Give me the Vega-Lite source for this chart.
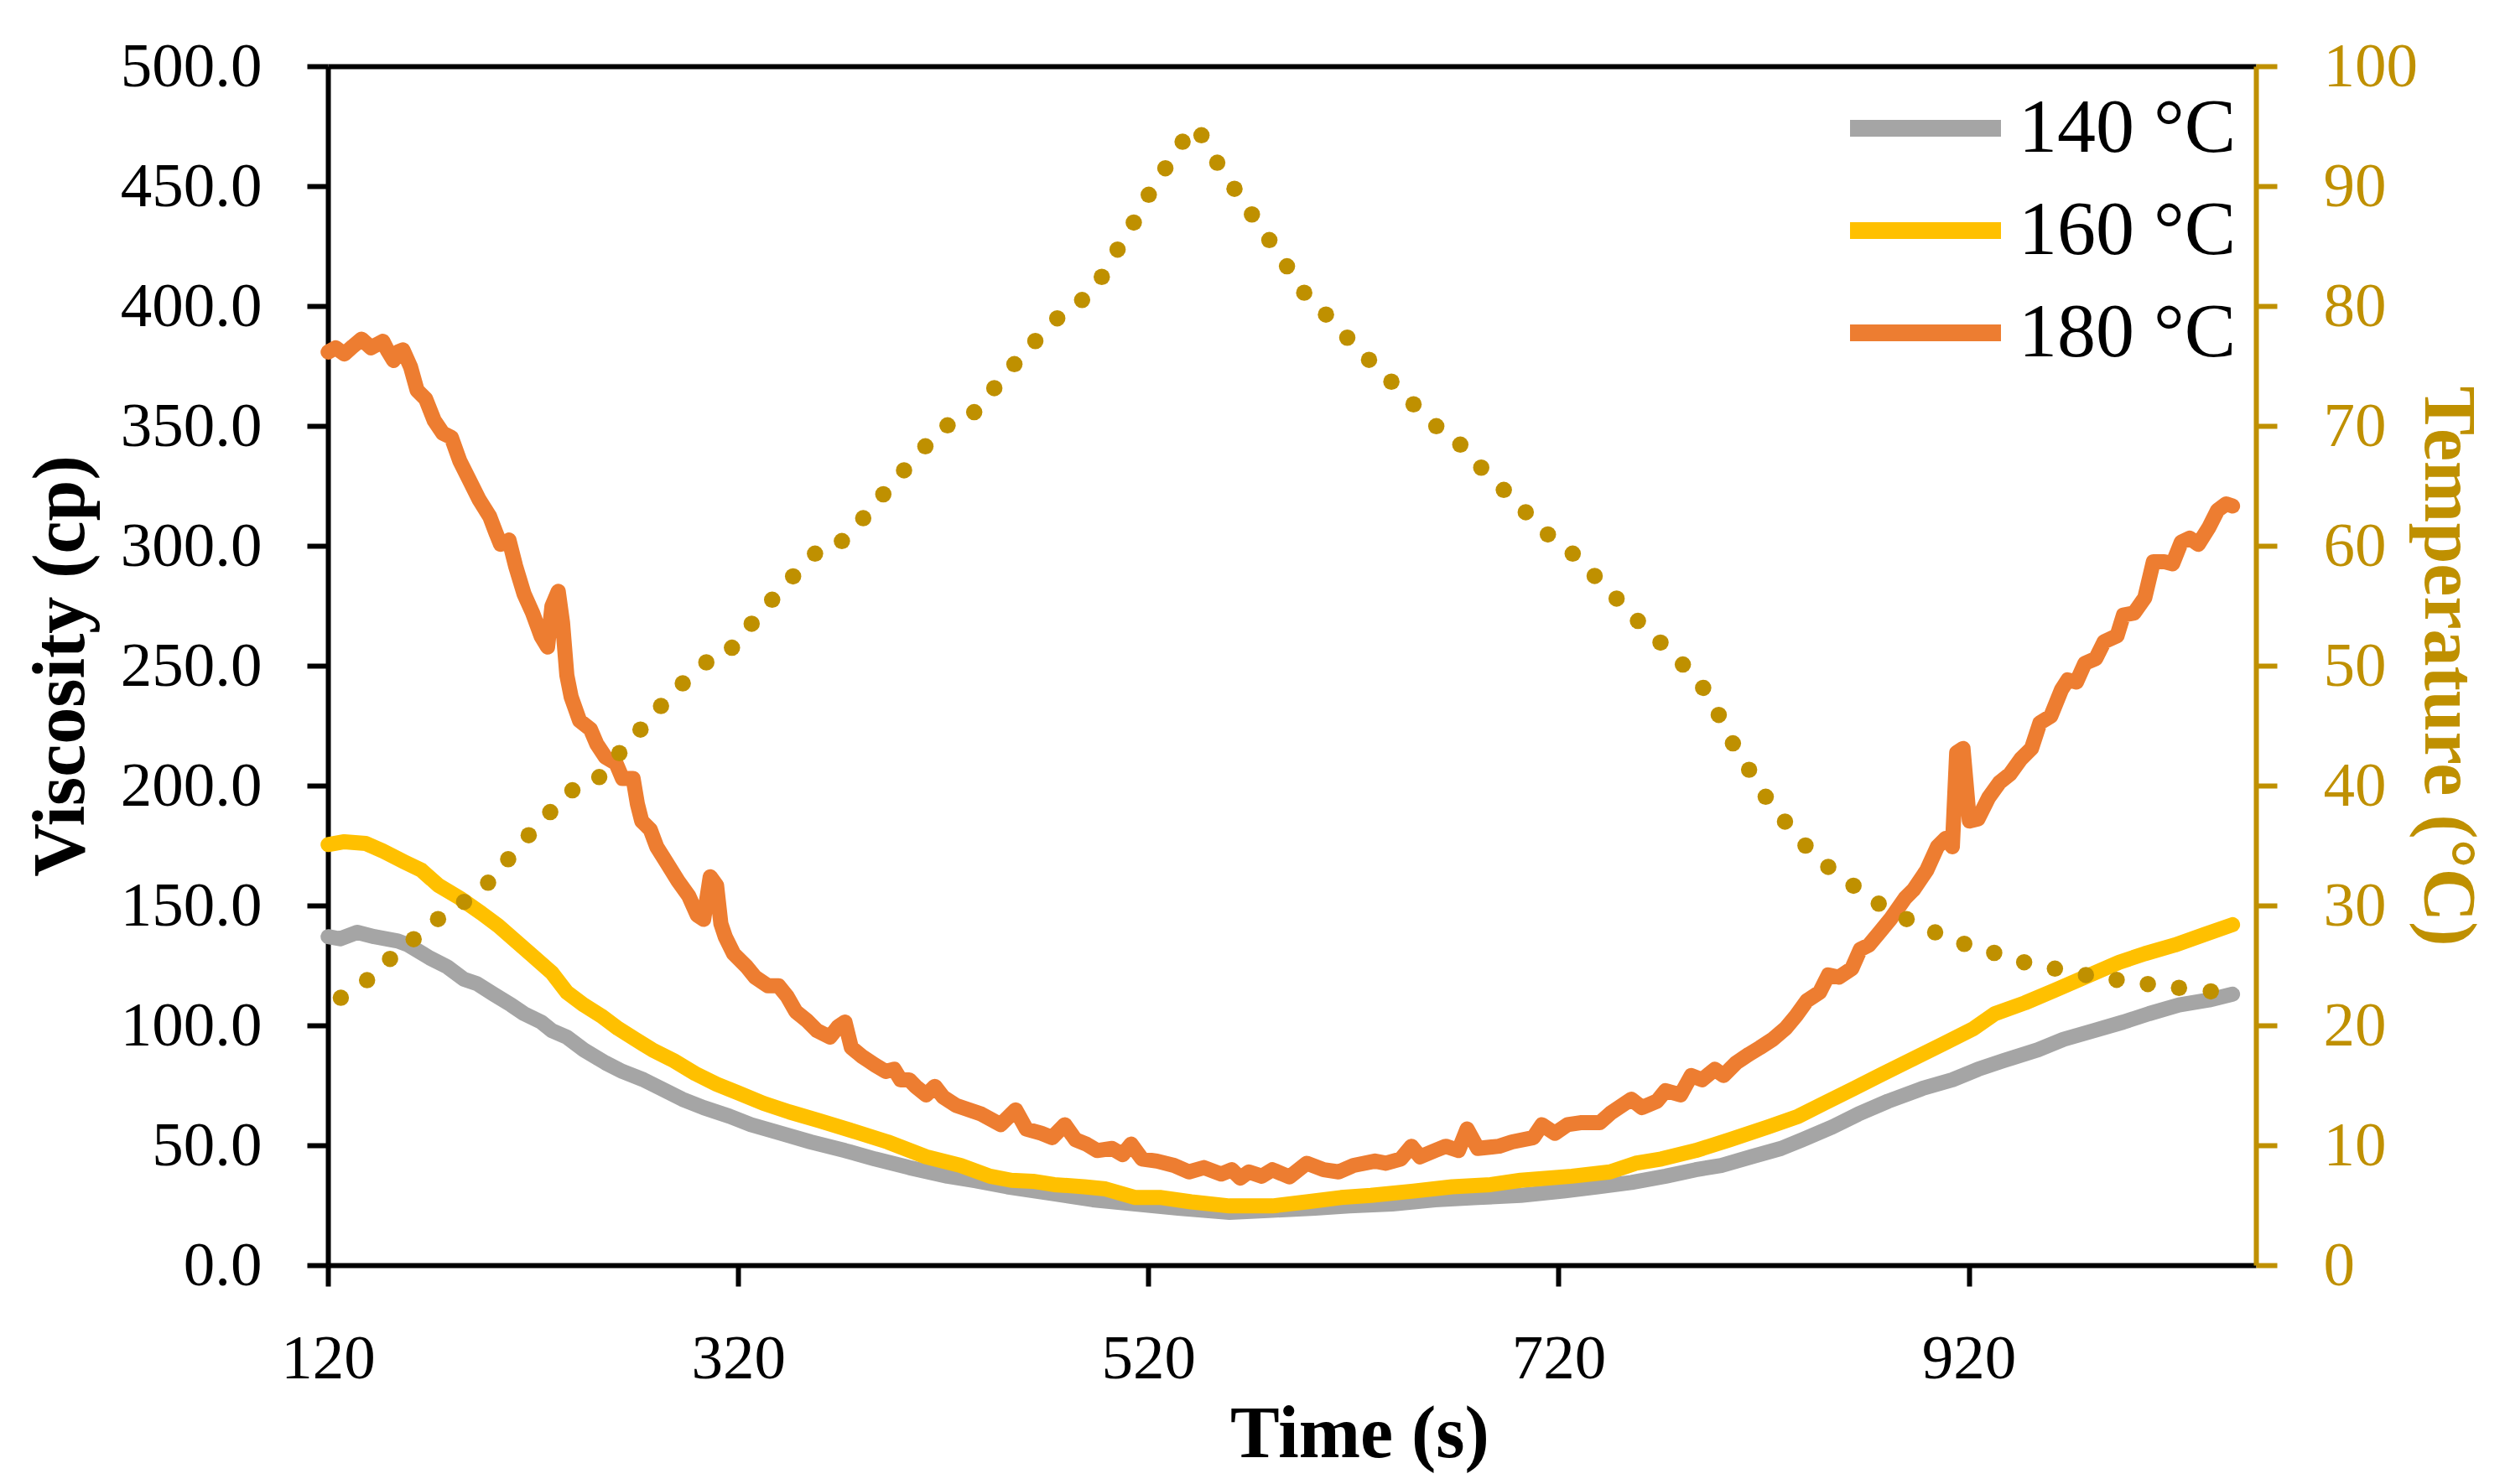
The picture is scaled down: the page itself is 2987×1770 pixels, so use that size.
{
  "$schema": "https://vega.github.io/schema/vega-lite/v6.json",
  "width": 2299,
  "height": 1430,
  "autosize": {"type": "none"},
  "padding": {"left": 391, "top": 79, "right": 297, "bottom": 261},
  "background": "white",
  "config": {"view": {"stroke": null}, "font": "Liberation Serif"},
  "datasets": {
    "visc": [
      {"time":120.1,"series":"140 °C","viscosity":137},{"time":125.9,"series":"140 °C","viscosity":136.1},{"time":134.3,"series":"140 °C","viscosity":138.8},{"time":142.6,"series":"140 °C","viscosity":137},{"time":154.1,"series":"140 °C","viscosity":135.2},{"time":159.3,"series":"140 °C","viscosity":133.5},{"time":169.7,"series":"140 °C","viscosity":128.1},{"time":178.1,"series":"140 °C","viscosity":124.5},{"time":186.4,"series":"140 °C","viscosity":119.2},{"time":192.7,"series":"140 °C","viscosity":117.4},{"time":201,"series":"140 °C","viscosity":112.9},{"time":209.4,"series":"140 °C","viscosity":108.5},{"time":215.6,"series":"140 °C","viscosity":104.9},{"time":224,"series":"140 °C","viscosity":101.4},{"time":229.2,"series":"140 °C","viscosity":97.8},{"time":236.5,"series":"140 °C","viscosity":95.1},{"time":244.8,"series":"140 °C","viscosity":89.8},{"time":255.3,"series":"140 °C","viscosity":84.4},{"time":263.6,"series":"140 °C","viscosity":80.8},{"time":274,"series":"140 °C","viscosity":77.3},{"time":282.4,"series":"140 °C","viscosity":73.7},{"time":292.8,"series":"140 °C","viscosity":69.2},{"time":303.2,"series":"140 °C","viscosity":65.7},{"time":315.8,"series":"140 °C","viscosity":62.1},{"time":326.2,"series":"140 °C","viscosity":58.6},{"time":340.8,"series":"140 °C","viscosity":55},{"time":355.4,"series":"140 °C","viscosity":51.4},{"time":372.1,"series":"140 °C","viscosity":47.8},{"time":386.7,"series":"140 °C","viscosity":44.3},{"time":403.4,"series":"140 °C","viscosity":40.7},{"time":422.1,"series":"140 °C","viscosity":37.1},{"time":436,"series":"140 °C","viscosity":35.2},{"time":451.2,"series":"140 °C","viscosity":32.7},{"time":472,"series":"140 °C","viscosity":30},{"time":492.9,"series":"140 °C","viscosity":27.3},{"time":513.7,"series":"140 °C","viscosity":25.5},{"time":534.6,"series":"140 °C","viscosity":23.8},{"time":559.6,"series":"140 °C","viscosity":22},{"time":580.5,"series":"140 °C","viscosity":22.9},{"time":601.3,"series":"140 °C","viscosity":23.8},{"time":618,"series":"140 °C","viscosity":24.7},{"time":638.9,"series":"140 °C","viscosity":25.5},{"time":659.8,"series":"140 °C","viscosity":27.3},{"time":680.6,"series":"140 °C","viscosity":28.2},{"time":701.5,"series":"140 °C","viscosity":29.1},{"time":722.3,"series":"140 °C","viscosity":30.9},{"time":739,"series":"140 °C","viscosity":32.7},{"time":755.5,"series":"140 °C","viscosity":34.5},{"time":772.2,"series":"140 °C","viscosity":37.1},{"time":786.8,"series":"140 °C","viscosity":39.8},{"time":799.3,"series":"140 °C","viscosity":41.6},{"time":813.9,"series":"140 °C","viscosity":45.2},{"time":828.5,"series":"140 °C","viscosity":48.7},{"time":838.9,"series":"140 °C","viscosity":52.3},{"time":853.6,"series":"140 °C","viscosity":57.7},{"time":866.1,"series":"140 °C","viscosity":63},{"time":880.7,"series":"140 °C","viscosity":68.4},{"time":897.4,"series":"140 °C","viscosity":73.7},{"time":912,"series":"140 °C","viscosity":77.3},{"time":924.5,"series":"140 °C","viscosity":81.7},{"time":937,"series":"140 °C","viscosity":85.3},{"time":953.7,"series":"140 °C","viscosity":89.8},{"time":966.2,"series":"140 °C","viscosity":94.2},{"time":980.8,"series":"140 °C","viscosity":97.8},{"time":995.4,"series":"140 °C","viscosity":101.4},{"time":1007.9,"series":"140 °C","viscosity":104.9},{"time":1022.5,"series":"140 °C","viscosity":108.5},{"time":1037.1,"series":"140 °C","viscosity":110.6},{"time":1048.6,"series":"140 °C","viscosity":113},
      {"time":120.1,"series":"160 °C","viscosity":175.4},{"time":128,"series":"160 °C","viscosity":176.6},{"time":138.4,"series":"160 °C","viscosity":175.9},{"time":146.8,"series":"160 °C","viscosity":172.7},{"time":157.2,"series":"160 °C","viscosity":168.2},{"time":165.6,"series":"160 °C","viscosity":164.7},{"time":173.9,"series":"160 °C","viscosity":158.4},{"time":184.3,"series":"160 °C","viscosity":153.1},{"time":194.8,"series":"160 °C","viscosity":146.8},{"time":203.1,"series":"160 °C","viscosity":141.5},{"time":211.5,"series":"160 °C","viscosity":135.2},{"time":219.8,"series":"160 °C","viscosity":129},{"time":229.2,"series":"160 °C","viscosity":121.9},{"time":236.5,"series":"160 °C","viscosity":113.8},{"time":244.8,"series":"160 °C","viscosity":108.5},{"time":253.2,"series":"160 °C","viscosity":104},{"time":261.5,"series":"160 °C","viscosity":98.7},{"time":269.9,"series":"160 °C","viscosity":94.2},{"time":278.2,"series":"160 °C","viscosity":89.8},{"time":288.6,"series":"160 °C","viscosity":85.3},{"time":299.1,"series":"160 °C","viscosity":79.9},{"time":309.5,"series":"160 °C","viscosity":75.5},{"time":319.9,"series":"160 °C","viscosity":71.9},{"time":332.4,"series":"160 °C","viscosity":67.5},{"time":345,"series":"160 °C","viscosity":63.9},{"time":359.5,"series":"160 °C","viscosity":60.3},{"time":376.2,"series":"160 °C","viscosity":55.9},{"time":392.9,"series":"160 °C","viscosity":51.4},{"time":411.7,"series":"160 °C","viscosity":45.2},{"time":428.4,"series":"160 °C","viscosity":41.6},{"time":442.8,"series":"160 °C","viscosity":37.1},{"time":453.2,"series":"160 °C","viscosity":35.4},{"time":463.7,"series":"160 °C","viscosity":35},{"time":474.1,"series":"160 °C","viscosity":33.6},{"time":488.7,"series":"160 °C","viscosity":32.7},{"time":499.1,"series":"160 °C","viscosity":31.8},{"time":513.7,"series":"160 °C","viscosity":28.2},{"time":526.3,"series":"160 °C","viscosity":28.2},{"time":540.9,"series":"160 °C","viscosity":26.4},{"time":559.6,"series":"160 °C","viscosity":24.7},{"time":580.5,"series":"160 °C","viscosity":24.7},{"time":597.2,"series":"160 °C","viscosity":26.4},{"time":613.9,"series":"160 °C","viscosity":28.2},{"time":628.5,"series":"160 °C","viscosity":29.1},{"time":649.3,"series":"160 °C","viscosity":30.9},{"time":668.1,"series":"160 °C","viscosity":32.7},{"time":686.9,"series":"160 °C","viscosity":33.6},{"time":701.5,"series":"160 °C","viscosity":35.4},{"time":726.5,"series":"160 °C","viscosity":37.1},{"time":745.1,"series":"160 °C","viscosity":38.9},{"time":757.6,"series":"160 °C","viscosity":42.5},{"time":770.1,"series":"160 °C","viscosity":44.3},{"time":786.8,"series":"160 °C","viscosity":47.8},{"time":803.5,"series":"160 °C","viscosity":52.3},{"time":822.3,"series":"160 °C","viscosity":57.7},{"time":836.9,"series":"160 °C","viscosity":62.1},{"time":849.4,"series":"160 °C","viscosity":67.5},{"time":864,"series":"160 °C","viscosity":73.7},{"time":876.5,"series":"160 °C","viscosity":79.1},{"time":891.1,"series":"160 °C","viscosity":85.3},{"time":907.8,"series":"160 °C","viscosity":92.4},{"time":922.4,"series":"160 °C","viscosity":98.7},{"time":932.8,"series":"160 °C","viscosity":104.9},{"time":947.4,"series":"160 °C","viscosity":109.4},{"time":962,"series":"160 °C","viscosity":114.7},{"time":976.6,"series":"160 °C","viscosity":120.1},{"time":993.3,"series":"160 °C","viscosity":126.3},{"time":1005.8,"series":"160 °C","viscosity":129.9},{"time":1020.4,"series":"160 °C","viscosity":133.5},{"time":1035,"series":"160 °C","viscosity":137.9},{"time":1048.6,"series":"160 °C","viscosity":142},
      {"time":120.1,"series":"180 °C","viscosity":380.8},{"time":123.8,"series":"180 °C","viscosity":382.6},{"time":128,"series":"180 °C","viscosity":380},{"time":132.2,"series":"180 °C","viscosity":383.2},{"time":136.4,"series":"180 °C","viscosity":386.2},{"time":141,"series":"180 °C","viscosity":382.6},{"time":146.8,"series":"180 °C","viscosity":385.3},{"time":148.9,"series":"180 °C","viscosity":381.7},{"time":152,"series":"180 °C","viscosity":377.3},{"time":154.1,"series":"180 °C","viscosity":380.8},{"time":156.6,"series":"180 °C","viscosity":381.7},{"time":160.3,"series":"180 °C","viscosity":374.6},{"time":163.5,"series":"180 °C","viscosity":364.8},{"time":167.7,"series":"180 °C","viscosity":361.2},{"time":171.8,"series":"180 °C","viscosity":352.3},{"time":176,"series":"180 °C","viscosity":347},{"time":180.2,"series":"180 °C","viscosity":345.2},{"time":184.3,"series":"180 °C","viscosity":335.4},{"time":188.5,"series":"180 °C","viscosity":328.2},{"time":193.7,"series":"180 °C","viscosity":319.3},{"time":198.9,"series":"180 °C","viscosity":312.2},{"time":202.1,"series":"180 °C","viscosity":305},{"time":204.2,"series":"180 °C","viscosity":300.6},{"time":208.3,"series":"180 °C","viscosity":302.4},{"time":211.5,"series":"180 °C","viscosity":291.6},{"time":215.6,"series":"180 °C","viscosity":280},{"time":219.8,"series":"180 °C","viscosity":272},{"time":224,"series":"180 °C","viscosity":262.2},{"time":227.1,"series":"180 °C","viscosity":257.8},{"time":229.2,"series":"180 °C","viscosity":274.7},{"time":232.3,"series":"180 °C","viscosity":281},{"time":234.4,"series":"180 °C","viscosity":268},{"time":236.5,"series":"180 °C","viscosity":246},{"time":238.6,"series":"180 °C","viscosity":237},{"time":242.7,"series":"180 °C","viscosity":227.1},{"time":248,"series":"180 °C","viscosity":223.5},{"time":251.1,"series":"180 °C","viscosity":217.3},{"time":255.3,"series":"180 °C","viscosity":211.9},{"time":260.5,"series":"180 °C","viscosity":209.3},{"time":263.6,"series":"180 °C","viscosity":203},{"time":268.8,"series":"180 °C","viscosity":203},{"time":270.9,"series":"180 °C","viscosity":192.3},{"time":273,"series":"180 °C","viscosity":185.2},{"time":277.2,"series":"180 °C","viscosity":181.6},{"time":280.3,"series":"180 °C","viscosity":174.5},{"time":285.5,"series":"180 °C","viscosity":167.4},{"time":290.7,"series":"180 °C","viscosity":160.2},{"time":295.9,"series":"180 °C","viscosity":154},{"time":300.1,"series":"180 °C","viscosity":146},{"time":303.2,"series":"180 °C","viscosity":144.2},{"time":306.4,"series":"180 °C","viscosity":162},{"time":309.5,"series":"180 °C","viscosity":158.4},{"time":311.6,"series":"180 °C","viscosity":142.4},{"time":313.7,"series":"180 °C","viscosity":137},{"time":317.8,"series":"180 °C","viscosity":129.9},{"time":324.1,"series":"180 °C","viscosity":124.5},{"time":328.3,"series":"180 °C","viscosity":120.1},{"time":334.5,"series":"180 °C","viscosity":116.5},{"time":339.7,"series":"180 °C","viscosity":116.5},{"time":343.9,"series":"180 °C","viscosity":112.1},{"time":348.1,"series":"180 °C","viscosity":105.8},{"time":353.3,"series":"180 °C","viscosity":102.2},{"time":358.5,"series":"180 °C","viscosity":97.8},{"time":364.8,"series":"180 °C","viscosity":95.1},{"time":368.9,"series":"180 °C","viscosity":99.6},{"time":372.1,"series":"180 °C","viscosity":101.4},{"time":375.2,"series":"180 °C","viscosity":90.7},{"time":380.4,"series":"180 °C","viscosity":87.1},{"time":386.7,"series":"180 °C","viscosity":83.5},{"time":391.9,"series":"180 °C","viscosity":80.8},{"time":396.1,"series":"180 °C","viscosity":81.7},{"time":399.2,"series":"180 °C","viscosity":77.3},{"time":403.4,"series":"180 °C","viscosity":77.3},{"time":406.5,"series":"180 °C","viscosity":74.6},{"time":411.7,"series":"180 °C","viscosity":71},{"time":415.9,"series":"180 °C","viscosity":74.6},{"time":420,"series":"180 °C","viscosity":70.1},{"time":426.3,"series":"180 °C","viscosity":66.6},{"time":432.6,"series":"180 °C","viscosity":64.8},{"time":438.6,"series":"180 °C","viscosity":63},{"time":448,"series":"180 °C","viscosity":58.6},{"time":455.3,"series":"180 °C","viscosity":64.8},{"time":460.5,"series":"180 °C","viscosity":56.8},{"time":467.8,"series":"180 °C","viscosity":55},{"time":473.1,"series":"180 °C","viscosity":53.2},{"time":479.3,"series":"180 °C","viscosity":58.6},{"time":484.5,"series":"180 °C","viscosity":52.3},{"time":489.8,"series":"180 °C","viscosity":50.5},{"time":495,"series":"180 °C","viscosity":47.8},{"time":502.3,"series":"180 °C","viscosity":48.7},{"time":507.5,"series":"180 °C","viscosity":46.1},{"time":511.6,"series":"180 °C","viscosity":50.5},{"time":516.9,"series":"180 °C","viscosity":44.3},{"time":524.2,"series":"180 °C","viscosity":43.4},{"time":532.5,"series":"180 °C","viscosity":41.6},{"time":539.8,"series":"180 °C","viscosity":38.9},{"time":547.1,"series":"180 °C","viscosity":40.7},{"time":555.5,"series":"180 °C","viscosity":38},{"time":560.7,"series":"180 °C","viscosity":39.8},{"time":564.8,"series":"180 °C","viscosity":36.3},{"time":569,"series":"180 °C","viscosity":38.9},{"time":575.3,"series":"180 °C","viscosity":37.1},{"time":580.5,"series":"180 °C","viscosity":39.8},{"time":588.8,"series":"180 °C","viscosity":36.8},{"time":597.2,"series":"180 °C","viscosity":42.5},{"time":605.5,"series":"180 °C","viscosity":39.8},{"time":612.8,"series":"180 °C","viscosity":38.9},{"time":620.1,"series":"180 °C","viscosity":41.6},{"time":630.5,"series":"180 °C","viscosity":43.4},{"time":635.8,"series":"180 °C","viscosity":42.5},{"time":643.1,"series":"180 °C","viscosity":44.3},{"time":648.3,"series":"180 °C","viscosity":49.6},{"time":652.5,"series":"180 °C","viscosity":45.2},{"time":659.8,"series":"180 °C","viscosity":47.8},{"time":665,"series":"180 °C","viscosity":49.6},{"time":671.2,"series":"180 °C","viscosity":47.8},{"time":675.4,"series":"180 °C","viscosity":56.8},{"time":680.6,"series":"180 °C","viscosity":48.7},{"time":691,"series":"180 °C","viscosity":49.6},{"time":697.3,"series":"180 °C","viscosity":51.4},{"time":707.7,"series":"180 °C","viscosity":53.2},{"time":711.9,"series":"180 °C","viscosity":58.6},{"time":718.2,"series":"180 °C","viscosity":55},{"time":724.4,"series":"180 °C","viscosity":58.6},{"time":730.7,"series":"180 °C","viscosity":59.4},{"time":740.1,"series":"180 °C","viscosity":59.4},{"time":745.5,"series":"180 °C","viscosity":63.5},{"time":749.3,"series":"180 °C","viscosity":65.7},{"time":755.5,"series":"180 °C","viscosity":69.2},{"time":760.7,"series":"180 °C","viscosity":65.7},{"time":768,"series":"180 °C","viscosity":68.4},{"time":772.2,"series":"180 °C","viscosity":72.8},{"time":779.5,"series":"180 °C","viscosity":71},{"time":784.7,"series":"180 °C","viscosity":79.1},{"time":790,"series":"180 °C","viscosity":77.3},{"time":796.2,"series":"180 °C","viscosity":81.7},{"time":800.4,"series":"180 °C","viscosity":79.1},{"time":806.6,"series":"180 °C","viscosity":84.4},{"time":812.9,"series":"180 °C","viscosity":88},{"time":818.1,"series":"180 °C","viscosity":90.7},{"time":824.4,"series":"180 °C","viscosity":94.2},{"time":830.6,"series":"180 °C","viscosity":98.7},{"time":835.8,"series":"180 °C","viscosity":104},{"time":841.1,"series":"180 °C","viscosity":110.3},{"time":847.3,"series":"180 °C","viscosity":113.8},{"time":851.5,"series":"180 °C","viscosity":121},{"time":856.7,"series":"180 °C","viscosity":120.1},{"time":863,"series":"180 °C","viscosity":123.7},{"time":867.1,"series":"180 °C","viscosity":131.7},{"time":871.3,"series":"180 °C","viscosity":133.5},{"time":876.5,"series":"180 °C","viscosity":138.8},{"time":881.7,"series":"180 °C","viscosity":144.2},{"time":889,"series":"180 °C","viscosity":153.1},{"time":893.2,"series":"180 °C","viscosity":156.7},{"time":899.5,"series":"180 °C","viscosity":164.7},{"time":904.7,"series":"180 °C","viscosity":174.5},{"time":908.9,"series":"180 °C","viscosity":178.1},{"time":912,"series":"180 °C","viscosity":174.5},{"time":914.1,"series":"180 °C","viscosity":213.7},{"time":917.2,"series":"180 °C","viscosity":215.5},{"time":920.3,"series":"180 °C","viscosity":185.2},{"time":924.5,"series":"180 °C","viscosity":186.1},{"time":929.7,"series":"180 °C","viscosity":195},{"time":935,"series":"180 °C","viscosity":201.3},{"time":940.1,"series":"180 °C","viscosity":204.8},{"time":945.4,"series":"180 °C","viscosity":211.1},{"time":950.6,"series":"180 °C","viscosity":215.5},{"time":954.7,"series":"180 °C","viscosity":226.2},{"time":960,"series":"180 °C","viscosity":229},{"time":965.2,"series":"180 °C","viscosity":240},{"time":968.3,"series":"180 °C","viscosity":244.1},{"time":972.5,"series":"180 °C","viscosity":243.2},{"time":976.6,"series":"180 °C","viscosity":251},{"time":981.9,"series":"180 °C","viscosity":253},{"time":986,"series":"180 °C","viscosity":260},{"time":992.3,"series":"180 °C","viscosity":262.5},{"time":995.4,"series":"180 °C","viscosity":271.1},{"time":1000.6,"series":"180 °C","viscosity":272},{"time":1005.8,"series":"180 °C","viscosity":278.3},{"time":1010,"series":"180 °C","viscosity":293.4},{"time":1015.2,"series":"180 °C","viscosity":293.4},{"time":1019.4,"series":"180 °C","viscosity":292.5},{"time":1023.6,"series":"180 °C","viscosity":301.5},{"time":1027.7,"series":"180 °C","viscosity":303.2},{"time":1031.9,"series":"180 °C","viscosity":300.6},{"time":1037.1,"series":"180 °C","viscosity":307.7},{"time":1041.3,"series":"180 °C","viscosity":314.8},{"time":1045.5,"series":"180 °C","viscosity":317.5},{"time":1048.6,"series":"180 °C","viscosity":316.6}
    ],
    "temp": [
      {"time":126.3,"temperature":22.3},{"time":139.1,"temperature":23.77},{"time":150.3,"temperature":25.55},{"time":161.8,"temperature":27.19},{"time":173.7,"temperature":28.87},{"time":186.4,"temperature":30.3},{"time":198.1,"temperature":31.9},{"time":207.9,"temperature":33.86},{"time":217.9,"temperature":35.86},{"time":228.4,"temperature":37.79},{"time":239.2,"temperature":39.61},{"time":252.3,"temperature":40.71},{"time":262.1,"temperature":42.71},{"time":272.4,"temperature":44.67},{"time":282.4,"temperature":46.64},{"time":293,"temperature":48.53},{"time":304.5,"temperature":50.28},{"time":317,"temperature":51.5},{"time":326.6,"temperature":53.5},{"time":336.6,"temperature":55.5},{"time":346.8,"temperature":57.45},{"time":357.5,"temperature":59.35},{"time":370.6,"temperature":60.4},{"time":381,"temperature":62.3},{"time":390.8,"temperature":64.3},{"time":400.9,"temperature":66.3},{"time":411.3,"temperature":68.3},{"time":422.1,"temperature":70.05},{"time":435.1,"temperature":71.15},{"time":444.9,"temperature":73.15},{"time":454.7,"temperature":75.15},{"time":464.9,"temperature":77.08},{"time":475.6,"temperature":78.97},{"time":487.7,"temperature":80.5},{"time":497.3,"temperature":82.43},{"time":505,"temperature":84.71},{"time":512.9,"temperature":86.96},{"time":520.2,"temperature":89.28},{"time":528.3,"temperature":91.49},{"time":536.7,"temperature":93.7},{"time":545.9,"temperature":94.24},{"time":553.6,"temperature":91.95},{"time":562,"temperature":89.78},{"time":570.5,"temperature":87.64},{"time":579,"temperature":85.5},{"time":587.6,"temperature":83.32},{"time":596,"temperature":81.11},{"time":606.6,"temperature":79.29},{"time":617,"temperature":77.36},{"time":627.6,"temperature":75.51},{"time":638.5,"temperature":73.69},{"time":649.3,"temperature":71.8},{"time":660.4,"temperature":69.98},{"time":672.1,"temperature":68.44},{"time":682.3,"temperature":66.52},{"time":693.3,"temperature":64.66},{"time":704,"temperature":62.8},{"time":714.8,"temperature":60.95},{"time":726.9,"temperature":59.35},{"time":737.6,"temperature":57.49},{"time":748.3,"temperature":55.6},{"time":758.7,"temperature":53.74},{"time":769.7,"temperature":51.93},{"time":780.6,"temperature":50.1},{"time":790.5,"temperature":48.15},{"time":798.1,"temperature":45.9},{"time":805,"temperature":43.53},{"time":812.9,"temperature":41.32},{"time":821,"temperature":39.07},{"time":830.4,"temperature":37},{"time":840.4,"temperature":35},{"time":851.5,"temperature":33.22},{"time":863.8,"temperature":31.65},{"time":876.1,"temperature":30.15},{"time":889.7,"temperature":28.87},{"time":903.6,"temperature":27.76},{"time":917.8,"temperature":26.8},{"time":932.4,"temperature":26.05},{"time":947,"temperature":25.27},{"time":962,"temperature":24.73},{"time":977.1,"temperature":24.2},{"time":992.1,"temperature":23.8},{"time":1007.3,"temperature":23.45},{"time":1022.5,"temperature":23.13},{"time":1038,"temperature":22.84}
    ]
  },
  "layer": [
    {
      "data": {"name": "visc"},
      "mark": {"type": "line", "strokeWidth": 18, "strokeCap": "round", "strokeJoin": "round"},
      "encoding": {
        "x": {
          "field": "time", "type": "quantitative",
          "scale": {"domain": [120, 1060], "nice": false, "zero": false},
          "axis": {
            "values": [120, 320, 520, 720, 920], "grid": false, "labelFlush": false,
            "domainColor": "black", "domainWidth": 6, "tickColor": "black", "tickWidth": 6, "tickSize": 25,
            "labelFont": "Liberation Serif", "labelFontSize": 75, "labelColor": "black", "labelPadding": 50,
            "title": "Time (s)", "titleFont": "Liberation Serif", "titleFontSize": 88, "titleFontWeight": "bold", "titleColor": "black",
            "titleX": 1230, "titleY": 228, "titleBaseline": "alphabetic", "titleAlign": "center"
          }
        },
        "y": {
          "field": "viscosity", "type": "quantitative",
          "scale": {"domain": [0, 500], "nice": false},
          "axis": {
            "values": [0, 50, 100, 150, 200, 250, 300, 350, 400, 450, 500], "format": ".1f", "grid": false, "labelFlush": false,
            "domainColor": "black", "domainWidth": 6, "tickColor": "black", "tickWidth": 6, "tickSize": 25,
            "labelFont": "Liberation Serif", "labelFontSize": 75, "labelColor": "black", "labelPadding": 54,
            "title": "Viscosity (cp)", "titleFont": "Liberation Serif", "titleFontSize": 88, "titleFontWeight": "bold", "titleColor": "black",
            "titleAngle": 270, "titleX": -292, "titleY": 715, "titleBaseline": "alphabetic", "titleAlign": "center"
          }
        },
        "color": {
          "field": "series", "type": "nominal",
          "scale": {"domain": ["140 °C", "160 °C", "180 °C"], "range": ["#A5A5A5", "#FFC000", "#ED7D31"]},
          "legend": {
            "orient": "none", "legendX": 1850, "legendY": 19, "title": null, "padding": 0,
            "symbolType": "M-2,0H2", "symbolSize": 8100, "symbolStrokeWidth": 20,
            "labelFont": "Liberation Serif", "labelFontSize": 92, "labelColor": "black", "labelOffset": 56, "labelLimit": 0,
            "rowPadding": 21
          }
        }
      }
    },
    {
      "data": {"name": "temp"},
      "mark": {"type": "circle", "size": 380, "opacity": 1, "color": "#BF9000"},
      "encoding": {
        "x": {
          "field": "time", "type": "quantitative",
          "axis": {"orient": "top", "labels": false, "ticks": false, "title": null, "grid": false, "domainColor": "black", "domainWidth": 6}
        },
        "y": {
          "field": "temperature", "type": "quantitative",
          "scale": {"domain": [0, 100], "nice": false},
          "axis": {
            "orient": "right", "values": [0, 10, 20, 30, 40, 50, 60, 70, 80, 90, 100], "grid": false, "labelFlush": false,
            "domainColor": "#BF9000", "domainWidth": 6, "tickColor": "#BF9000", "tickWidth": 6, "tickSize": 25,
            "labelFont": "Liberation Serif", "labelFontSize": 75, "labelColor": "#BF9000", "labelPadding": 55,
            "title": "Temperature (°C)", "titleFont": "Liberation Serif", "titleFontSize": 88, "titleFontWeight": "bold", "titleColor": "#BF9000",
            "titleAngle": 90, "titleX": 201, "titleY": 715, "titleBaseline": "alphabetic", "titleAlign": "center"
          }
        }
      }
    }
  ],
  "resolve": {"scale": {"y": "independent"}, "axis": {"x": "independent"}}
}
